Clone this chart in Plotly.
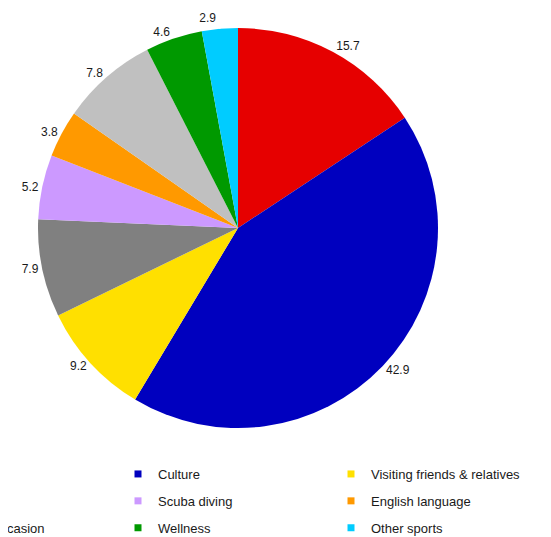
import plotly.graph_objects as go

categories = ["Leisure", "Culture", "Visiting friends & relatives",
              "MICE", "Scuba diving", "English language",
              "Special occasion", "Wellness", "Other sports"]
values = [15.7, 42.9, 9.2, 7.9, 5.2, 3.8, 7.8, 4.6, 2.9]
colors = ["#E60000", "#0000BF", "#FFE000", "#808080", "#CC99FF",
          "#FF9900", "#C0C0C0", "#009900", "#00CCFF"]

W, H = 551, 537
OFF = 8  # page body margin
FONT = "Liberation Sans, Arial, sans-serif"
TXT = "#1a1a1a"

fig = go.Figure()
fig.add_trace(go.Pie(
    labels=categories, values=values, sort=False, direction="clockwise",
    rotation=0, marker=dict(colors=colors, line=dict(width=0)),
    textposition="outside",
    texttemplate='<span style="color:' + TXT + '">%{value:.1f}</span>',
    outsidetextfont=dict(family=FONT, size=12, color="#ffffff"),
    textfont=dict(family=FONT, size=12),
    showlegend=False, hoverinfo="label+value",
    domain=dict(x=[(38 - OFF) / W, (438 - OFF) / W],
                y=[1 - (428 - OFF) / H, 1 - (28 - OFF) / H]),
))

# legend entries: three columns, rows of three (row-major order)
col_left_px = [-93 - OFF, 118 - OFF, 331 - OFF]
legend_ids = ["legend", "legend2", "legend3"]
for i, (name, col) in enumerate(zip(categories, colors)):
    c = i % 3
    fig.add_trace(go.Scatter(
        x=[None], y=[None], mode="markers", name=name,
        marker=dict(symbol="square", size=7, color=col),
        legend=legend_ids[c], legendgroup=name, showlegend=True,
    ))

leg_common = dict(
    orientation="v", xanchor="left", yanchor="top", y=1 - (461 - OFF - 2) / H,
    bgcolor="rgba(0,0,0,0)", borderwidth=0, traceorder="grouped",
    tracegroupgap=7, font=dict(family=FONT, size=13, color=TXT),
)
fig.update_layout(
    width=W, height=H,
    margin=dict(l=0, r=0, t=0, b=0, autoexpand=False),
    paper_bgcolor="white", plot_bgcolor="white",
    xaxis=dict(visible=False), yaxis=dict(visible=False),
    legend=dict(x=col_left_px[0] / W, **leg_common),
    legend2=dict(x=col_left_px[1] / W, **leg_common),
    legend3=dict(x=col_left_px[2] / W, **leg_common),
)
fig.write_html("out.html")
